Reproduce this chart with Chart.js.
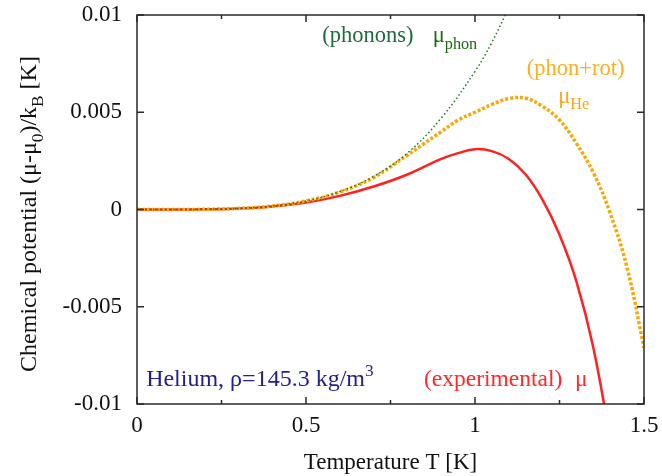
<!DOCTYPE html>
<html>
<head>
<meta charset="utf-8">
<script src="https://cdn.jsdelivr.net/npm/chart.js@4"></script>
<style>
  html, body { margin: 0; padding: 0; background: #fff; }
  #wrap { width: 662px; height: 476px; }
</style>
</head>
<body>
<div id="wrap"><canvas id="c" width="662" height="476"></canvas></div>
<script>
// ---- data ----
const tPhon  = [0, 0.1, 0.2, 0.3, 0.4, 0.5, 0.6, 0.7, 0.8, 0.9, 1.0, 1.05, 1.1, 1.15];
const muPhon = [0, 0.000001, 0.000011, 0.000057, 0.00018, 0.00044, 0.00092, 0.0017, 0.0029, 0.0047, 0.0071, 0.0086, 0.0104, 0.0124];

const tHe  = [0, 0.1, 0.2, 0.3, 0.4, 0.5, 0.6, 0.7, 0.8, 0.85, 0.9, 0.95, 1.0, 1.05, 1.1, 1.15, 1.2, 1.25, 1.3, 1.35, 1.4, 1.45, 1.5];
const muHe = [0, 0.000001, 0.000011, 0.000057, 0.00018, 0.00044, 0.0009, 0.00165, 0.0028, 0.0034, 0.0040, 0.0046, 0.0050, 0.0054, 0.0057, 0.00572, 0.0053, 0.0046, 0.0034, 0.0019, -0.0002, -0.0030, -0.0071];

const tExp  = [0, 0.1, 0.2, 0.3, 0.4, 0.5, 0.6, 0.7, 0.8, 0.9, 0.95, 1.0, 1.05, 1.1, 1.15, 1.2, 1.25, 1.3, 1.35, 1.4];
const muExp = [0, 0.000001, 0.00001, 0.00005, 0.00016, 0.00036, 0.0007, 0.00118, 0.0018, 0.0026, 0.0029, 0.0031, 0.0030, 0.0026, 0.0018, 0.0005, -0.0013, -0.0037, -0.0071, -0.0118];

const xTicks = [0, 0.5, 1, 1.5];
const xTickLabels = ["0", "0.5", "1", "1.5"];
const xMinorTicks = [0.25, 0.75, 1.25];
const yTicks = [-0.01, -0.005, 0, 0.005, 0.01];
const yTickLabels = ["-0.01", "-0.005", "0", "0.005", "0.01"];

const xTitle = "Temperature T [K]";
const yTitleParts = [["Chemical potential (μ-μ", 0], ["0", 1], [")/k", 0], ["B", 1], [" [K]", 0]];

const FONT = "'Liberation Serif', 'DejaVu Serif', serif";

function pts(xs, ys) { return xs.map((x, i) => ({ x: x, y: ys[i] })); }

// rich text: parts [text, mode] mode 0 normal, 1 subscript, 2 superscript
function richWidth(ctx, parts, size) {
  let w = 0;
  for (const [t, m] of parts) {
    ctx.font = (m ? size * 0.72 : size) + "px " + FONT;
    w += ctx.measureText(t).width;
  }
  return w;
}
function drawRich(ctx, parts, x, y, size, color) {
  ctx.fillStyle = color;
  ctx.textBaseline = "alphabetic";
  ctx.textAlign = "left";
  let cx = x;
  for (const [t, m] of parts) {
    const s = m ? size * 0.72 : size;
    ctx.font = s + "px " + FONT;
    let dy = 0;
    if (m === 1) dy = size * 0.3;
    if (m === 2) dy = -size * 0.42;
    ctx.fillText(t, cx, y + dy);
    cx += ctx.measureText(t).width;
  }
}

const annotations = [
  { parts: [["(phonons)", 0]], x: 0.548, y: 0.0086, size: 22.5, color: "#1f6a3a" },
  { parts: [["μ", 0], ["phon", 1]], x: 0.875, y: 0.0086, size: 22.5, color: "#1a6b12" },
  { parts: [["(phon+rot)", 0]], x: 1.153, y: 0.0069, size: 22.5, color: "#ffae1e" },
  { parts: [["μ", 0], ["He", 1]], x: 1.246, y: 0.0055, size: 22.5, color: "#ffa51a" },
  { parts: [["Helium, ρ=145.3 kg/m", 0], ["3", 2]], x: 0.027, y: -0.0091, size: 24, color: "#22228a" },
  { parts: [["(experimental)", 0]], x: 0.849, y: -0.0091, size: 23.5, color: "#ff2a2a" },
  { parts: [["μ", 0]], x: 1.296, y: -0.0091, size: 23.5, color: "#ff2a2a" }
];

const framePlugin = {
  id: "frame",
  afterDraw(chart) {
    const ctx = chart.ctx;
    const a = chart.chartArea;
    const xs = chart.scales.x, ys = chart.scales.y;
    ctx.save();
    ctx.strokeStyle = "#2a2a2a";
    ctx.lineWidth = 1.5;
    ctx.strokeRect(a.left, a.top, a.right - a.left, a.bottom - a.top);
    ctx.beginPath();
    const major = 7, minor = 4;
    for (const v of xTicks) {
      const p = xs.getPixelForValue(v);
      ctx.moveTo(p, a.bottom); ctx.lineTo(p, a.bottom - major);
      ctx.moveTo(p, a.top); ctx.lineTo(p, a.top + major);
    }
    for (const v of xMinorTicks) {
      const p = xs.getPixelForValue(v);
      ctx.moveTo(p, a.bottom); ctx.lineTo(p, a.bottom - minor);
      ctx.moveTo(p, a.top); ctx.lineTo(p, a.top + minor);
    }
    for (const v of yTicks) {
      const p = ys.getPixelForValue(v);
      ctx.moveTo(a.left, p); ctx.lineTo(a.left + major, p);
      ctx.moveTo(a.right, p); ctx.lineTo(a.right - major, p);
    }
    ctx.stroke();

    ctx.fillStyle = "#111";
    ctx.font = "23px " + FONT;
    ctx.textAlign = "center";
    ctx.textBaseline = "alphabetic";
    ctx.fillText(xTitle, (a.left + a.right) / 2, 469);

    const size = 24;
    const w = richWidth(ctx, yTitleParts, size);
    ctx.save();
    ctx.translate(36, 214);
    ctx.rotate(-Math.PI / 2);
    drawRich(ctx, yTitleParts, -w / 2, 0, size, "#111");
    ctx.restore();

    for (const an of annotations) {
      drawRich(ctx, an.parts, xs.getPixelForValue(an.x), ys.getPixelForValue(an.y), an.size, an.color);
    }
    ctx.restore();
  }
};

new Chart(document.getElementById("c"), {
  type: "scatter",
  data: {
    datasets: [
      {
        label: "phonons",
        data: pts(tPhon, muPhon),
        showLine: true,
        borderColor: "#1e7a1e",
        borderWidth: 1.5,
        borderDash: [1.5, 2.5],
        pointRadius: 0,
        tension: 0.4,
        order: 1
      },
      {
        label: "phon+rot",
        data: pts(tHe, muHe),
        showLine: true,
        borderColor: "#ffa500",
        borderWidth: 3.5,
        borderDash: [3, 2],
        pointRadius: 0,
        tension: 0.4,
        order: 2
      },
      {
        label: "experimental",
        data: pts(tExp, muExp),
        showLine: true,
        borderColor: "#ff2020",
        borderWidth: 2.5,
        pointRadius: 0,
        tension: 0.4,
        order: 3
      }
    ]
  },
  options: {
    responsive: false,
    animation: false,
    events: [],
    layout: { padding: { left: 0, right: 18, top: 15, bottom: 0 } },
    plugins: { legend: { display: false }, tooltip: { enabled: false } },
    scales: {
      x: {
        type: "linear",
        min: 0, max: 1.5,
        grid: { display: false, drawTicks: false },
        border: { display: false },
        afterBuildTicks: (s) => { s.ticks = xTicks.map(v => ({ value: v })); },
        afterFit: (s) => { s.height = 72; s.paddingLeft = 0; s.paddingRight = 0; },
        ticks: {
          color: "#111",
          font: { family: FONT, size: 23 },
          padding: 8,
          maxRotation: 0,
          callback: (v) => { const i = xTicks.indexOf(v); return i >= 0 ? xTickLabels[i] : ""; }
        }
      },
      y: {
        type: "linear",
        min: -0.01, max: 0.01,
        grid: { display: false, drawTicks: false },
        border: { display: false },
        afterBuildTicks: (s) => { s.ticks = yTicks.map(v => ({ value: v })); },
        afterFit: (s) => { s.width = 137; s.paddingTop = 0; s.paddingBottom = 0; },
        ticks: {
          color: "#111",
          font: { family: FONT, size: 23 },
          padding: 15,
          callback: (v) => { const i = yTicks.findIndex(t => Math.abs(t - v) < 1e-9); return i >= 0 ? yTickLabels[i] : ""; }
        }
      }
    }
  },
  plugins: [framePlugin]
});
</script>
</body>
</html>
